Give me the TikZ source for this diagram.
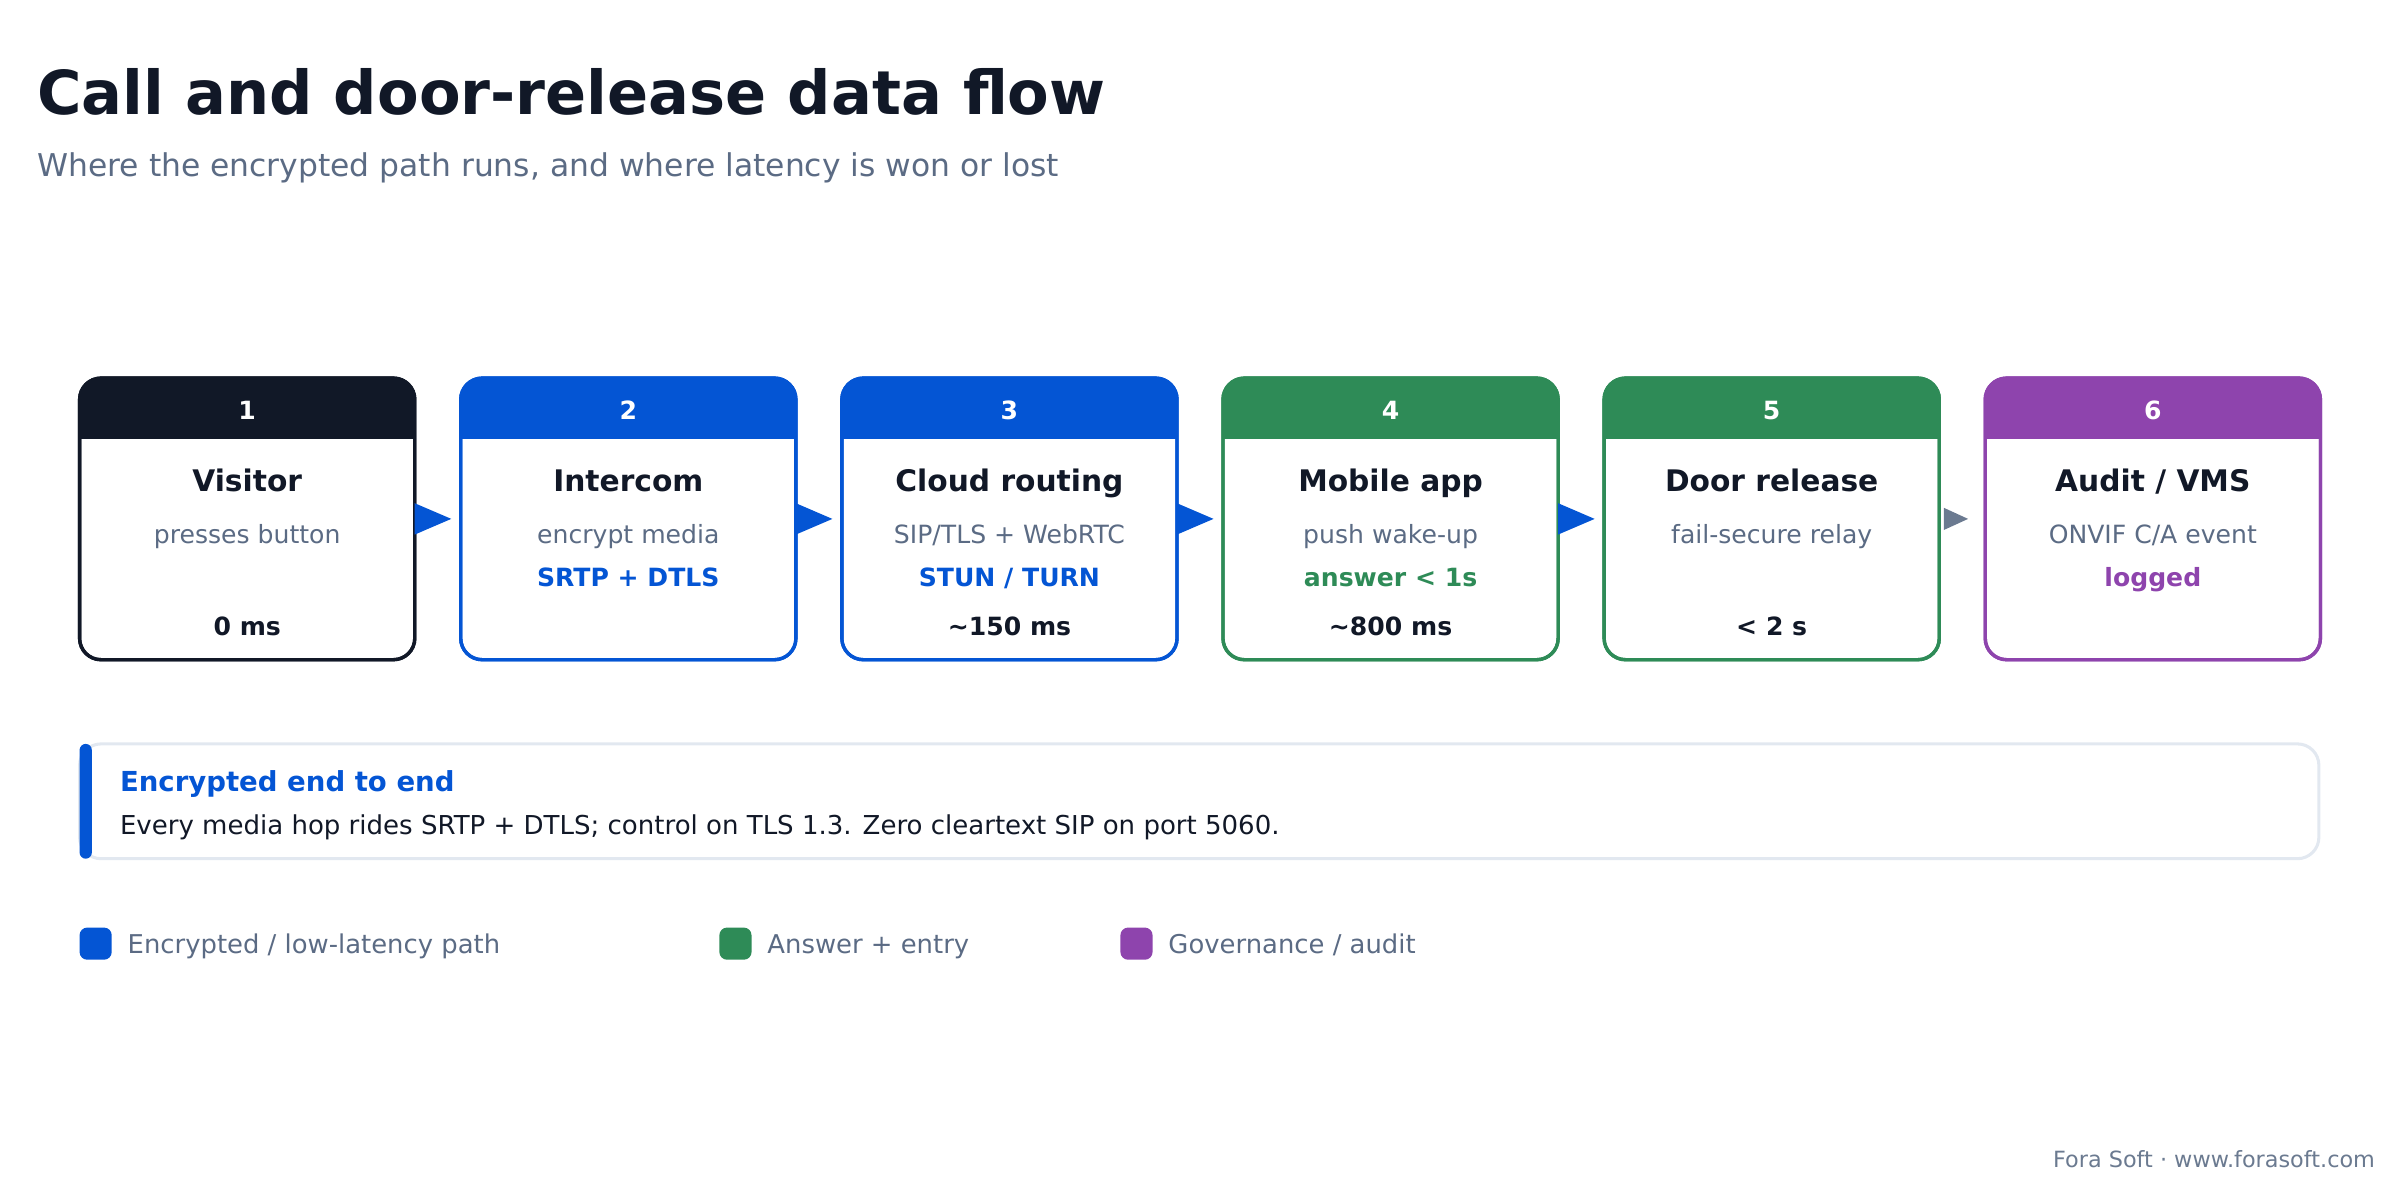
\documentclass[tikz,border=0pt]{standalone}
\usepackage{fontspec}
\setmainfont{DejaVu Sans}
\usetikzlibrary{arrows.meta}
\definecolor{ink}{HTML}{111827}
\definecolor{mute}{HTML}{5B6B84}
\definecolor{blu}{HTML}{0455D4}
\definecolor{grn}{HTML}{2E8B57}
\definecolor{pur}{HTML}{8E44AD}
\definecolor{edge}{HTML}{E2E8F0}
\definecolor{arrgray}{HTML}{6B7A90}
\tikzset{
  stage/.style={draw=#1, line width=1.1pt, rounded corners=7pt, minimum width=109.5pt,
                minimum height=92pt, inner sep=0pt, fill=white},
  flow/.style={-{Triangle[length=12pt,width=10pt]}, line width=1pt, draw=#1, fill=#1, shorten >=2.5pt},
  txt/.style={inner sep=0pt, anchor=base, font=\fontsize{#1}{#1}\selectfont},
}
\begin{document}
\begin{tikzpicture}[x=0.5pt, y=-0.5pt]
\useasboundingbox (0,0) rectangle (1568,784);
% heading
\node[txt=19.8pt, anchor=base west, text=ink, font=\fontsize{19.8pt}{20pt}\selectfont\bfseries] (title) at (24,75) {Call and door-release data flow};
\node[txt=10.25pt, anchor=base west, text=mute] (sub) at (24,115) {Where the encrypted path runs, and where latency is won or lost};
% stages
\foreach \i/\col/\name/\what/\how/\ms [count=\k from 0] in {
  1/ink/Visitor/presses button//0 ms,
  2/blu/Intercom/encrypt media/SRTP + DTLS/,
  3/blu/Cloud routing/{SIP/TLS + WebRTC}/{STUN / TURN}/\textasciitilde150 ms,
  4/grn/Mobile app/push wake-up/answer < 1s/\textasciitilde800 ms,
  5/grn/Door release/fail-secure relay//< 2 s,
  6/pur/{Audit / VMS}/{ONVIF C/A event}/logged/}{
  \pgfmathsetmacro\xl{52+249*\k}
  \node[stage=\col] (b\i) at (\xl+109.5,339) {};
  \begin{scope}
    \clip[rounded corners=7pt] (\xl,247) rectangle ++(219,184);
    \fill[\col] (\xl,247) rectangle ++(219,40);
  \end{scope}
  \draw[\col, line width=1.1pt, rounded corners=7pt] (\xl,247) rectangle ++(219,184);
  \node[txt=8.2pt, text=white, font=\fontsize{8.2pt}{8.2pt}\selectfont\bfseries] (h\i) at (\xl+109.5,274) {\i};
  \node[txt=9.7pt, text=ink, font=\fontsize{9.7pt}{9.7pt}\selectfont\bfseries] (n\i) at (\xl+109.5,321) {\name};
  \node[txt=8.2pt, text=mute] (w\i) at (\xl+109.5,355) {\what};
  \node[txt=8.2pt, text=\col, font=\fontsize{8.2pt}{8.2pt}\selectfont\bfseries] (c\i) at (\xl+109.5,383) {\how};
  \node[txt=8.2pt, text=ink, font=\fontsize{8.2pt}{8.2pt}\selectfont\bfseries] (m\i) at (\xl+109.5,415) {\ms};
}
% connectors
\draw[flow=blu] (b1.east) -- (b2.west);
\draw[flow=blu] (b2.east) -- (b3.west);
\draw[flow=blu] (b3.east) -- (b4.west);
\draw[flow=blu] (b4.east) -- (b5.west);
\draw[-{Triangle[length=8pt,width=7pt]}, line width=1pt, arrgray, shorten <=2pt, shorten >=5pt] (b5.east) -- (b6.west);
% callout
\draw[edge, line width=1pt, rounded corners=7pt] (52,486) rectangle (1515,561);
\fill[blu, rounded corners=2pt] (52,486) rectangle (60,561);
\node[txt=9pt, anchor=base west, text=blu, font=\fontsize{9pt}{9pt}\selectfont\bfseries] (ct) at (78,517) {Encrypted end to end};
\node[txt=8.5pt, anchor=base west, text=ink] (cb) at (78,545) {Every media hop rides SRTP + DTLS; control on TLS 1.3. Zero cleartext SIP on port 5060.};
% legend
\foreach \x/\col/\lab in {52/blu/{Encrypted / low-latency path}, 470/grn/Answer + entry, 732/pur/{Governance / audit}}{
  \fill[\col, rounded corners=2.5pt] (\x,606) rectangle ++(21,21);
  \node[txt=8.45pt, anchor=base west, text=mute] at (\x+31,623) {\lab};
}
\node[txt=7.3pt, anchor=base east, text=arrgray] (foot) at (1552,763) {Fora Soft · www.forasoft.com};
\end{tikzpicture}
\end{document}
